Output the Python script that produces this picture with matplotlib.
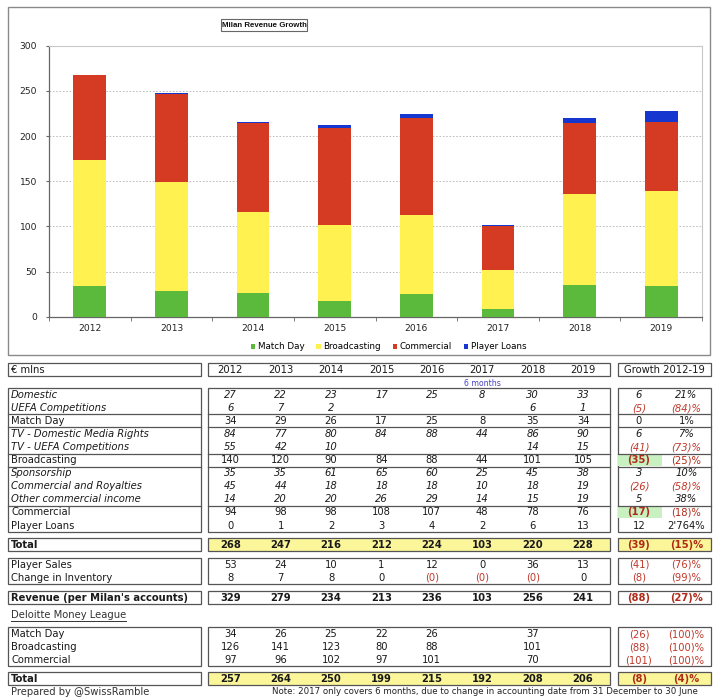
import matplotlib
matplotlib.use("Agg")
import matplotlib.pyplot as plt
from matplotlib.patches import Rectangle
import numpy as np

# ---------------- data ----------------
years = ["2012", "2013", "2014", "2015", "2016", "2017", "2018", "2019"]
domestic = [27, 22, 23, 17, 25, 8, 30, 33]
uefa_md = [6, 7, 2, None, None, None, 6, 1]
match_day = [34, 29, 26, 17, 25, 8, 35, 34]
tv_domestic = [84, 77, 80, 84, 88, 44, 86, 90]
tv_uefa = [55, 42, 10, None, None, None, 14, 15]
broadcasting = [140, 120, 90, 84, 88, 44, 101, 105]
sponsorship = [35, 35, 61, 65, 60, 25, 45, 38]
comm_royalties = [45, 44, 18, 18, 18, 10, 18, 19]
other_comm = [14, 20, 20, 26, 29, 14, 15, 19]
commercial = [94, 98, 98, 108, 107, 48, 78, 76]
player_loans = [0, 1, 2, 3, 4, 2, 6, 13]
total = [268, 247, 216, 212, 224, 103, 220, 228]
player_sales = [53, 24, 10, 1, 12, 0, 36, 13]
inventory = ["8", "7", "8", "0", "(0)", "(0)", "(0)", "0"]
revenue = [329, 279, 234, 213, 236, 103, 256, 241]
dml_md = [34, 26, 25, 22, 26, None, 37, None]
dml_bc = [126, 141, 123, 80, 88, None, 101, None]
dml_comm = [97, 96, 102, 97, 101, None, 70, None]
dml_total = [257, 264, 250, 199, 215, 192, 208, 206]

growth_abs = {"Domestic": "6", "UEFA Competitions": "(5)", "Match Day": "0",
              "TV - Domestic Media Rights": "6", "TV - UEFA Competitions": "(41)",
              "Broadcasting": "(35)", "Sponsorship": "3", "Commercial and Royalties": "(26)",
              "Other commercial income": "5", "Commercial": "(17)", "Player Loans": "12",
              "Total": "(39)", "Player Sales": "(41)", "Change in Inventory": "(8)",
              "Revenue": "(88)", "DML Match Day": "(26)", "DML Broadcasting": "(88)",
              "DML Commercial": "(101)", "DML Total": "(8)"}
growth_pct = {"Domestic": "21%", "UEFA Competitions": "(84)%", "Match Day": "1%",
              "TV - Domestic Media Rights": "7%", "TV - UEFA Competitions": "(73)%",
              "Broadcasting": "(25)%", "Sponsorship": "10%", "Commercial and Royalties": "(58)%",
              "Other commercial income": "38%", "Commercial": "(18)%", "Player Loans": "2'764%",
              "Total": "(15)%", "Player Sales": "(76)%", "Change in Inventory": "(99)%",
              "Revenue": "(27)%", "DML Match Day": "(100)%", "DML Broadcasting": "(100)%",
              "DML Commercial": "(100)%", "DML Total": "(4)%"}

series_names = ["Match Day", "Broadcasting", "Commercial", "Player Loans"]
series_colors = ["#5bb93c", "#fff150", "#d53b22", "#1537cf"]

W, H = 720, 700
fig = plt.figure(figsize=(W / 100, H / 100), dpi=100)

# overlay axes in pixel coordinates
ov = fig.add_axes([0, 0, 1, 1], zorder=0)
ov.set_xlim(0, W)
ov.set_ylim(H, 0)
ov.axis("off")

FS = 7.2
TXT = "#1a1a1a"
RED = "#c0392b"
DRED = "#b02a18"
BORDER = "#555555"
YELLOW = "#fbf69a"
GREEN = "#c9f0c0"

# chart frame
ov.add_patch(Rectangle((8, 7), 702, 348, fill=False, ec="#8a8a8a", lw=1.0))
# title box (with slight shadow)
ov.add_patch(Rectangle((222, 20), 86, 12, fc="#bbbbbb", ec="none", lw=0))
ov.add_patch(Rectangle((221, 19), 86, 12, fc="white", ec="#666666", lw=0.8))
ov.text(264, 25.3, "Milan Revenue Growth", ha="center", va="center", fontsize=5.7,
        fontweight="bold", family=["Liberation Sans", "DejaVu Sans"], color="#111")

# ---------------- bar chart ----------------
ax = fig.add_axes([49 / W, 1 - 316.7 / H, 653 / W, 271 / H], zorder=2)
x = np.arange(len(years))
bottom = np.zeros(len(years))
handles = []
for name, vals, col in zip(series_names, [match_day, broadcasting, commercial, player_loans], series_colors):
    v = np.array(vals, dtype=float)
    b = ax.bar(x, v, 0.4, bottom=bottom, color=col, label=name, zorder=3)
    handles.append(b)
    bottom += v
ax.set_xlim(-0.5, len(years) - 0.5)
ax.set_ylim(0, 300)
ax.set_yticks(range(0, 301, 50))
ax.set_xticks(x)
ax.set_xticklabels(years)
ax.set_xticks(np.arange(-0.5, len(years), 1.0), minor=True)
ax.tick_params(axis="x", which="major", length=0, pad=5.5, labelsize=6.6, labelcolor="#222")
ax.tick_params(axis="x", which="minor", length=3, color="#666", direction="out")
ax.tick_params(axis="y", length=2.5, color="#666", pad=6, labelsize=6.6, labelcolor="#222")
ax.yaxis.grid(True, linestyle=(0, (2, 2)), color="#b5b5b5", lw=0.6)
ax.set_axisbelow(True)
for s in ["top", "right"]:
    ax.spines[s].set_color("#c8c8c8")
    ax.spines[s].set_linewidth(0.8)
for s in ["left", "bottom"]:
    ax.spines[s].set_color("#666666")
    ax.spines[s].set_linewidth(0.9)

fig.legend(handles=handles, labels=series_names, loc="center",
           bbox_to_anchor=(388.5 / W, 1 - 346.7 / H), ncol=4, frameon=False,
           fontsize=6.3, handlelength=0.5, handleheight=0.5, handletextpad=0.3,
           columnspacing=1.35, borderaxespad=0, borderpad=0)

# ---------------- table ----------------
LX0, LX1 = 8, 200.7
VX0, VX1 = 207.7, 610
GX0, GX1 = 617.7, 710.7
col_x = [230.3 + 50.39 * i for i in range(len(years))]
GA_X = 639
GP_X = 686.5
LBL_X = 11
RH = 13.04


def txt(xp, yp, s, ha="center", bold=False, italic=False, color=TXT, size=FS):
    ov.text(xp, yp, s, ha=ha, va="center", fontsize=size,
            fontweight="bold" if bold else "normal",
            fontstyle="italic" if italic else "normal", color=color)


def boxes(y0, n, fill=None):
    h = n * RH
    ov.add_patch(Rectangle((LX0, y0), LX1 - LX0, h, fc="white", ec=BORDER, lw=0.9))
    ov.add_patch(Rectangle((VX0, y0), VX1 - VX0, h, fc=fill or "white", ec=BORDER, lw=0.9))
    ov.add_patch(Rectangle((GX0, y0), GX1 - GX0, h, fc=fill or "white", ec=BORDER, lw=0.9))


def sep(yp):
    for a, b in [(LX0, LX1), (VX0, VX1), (GX0, GX1)]:
        ov.plot([a, b], [yp, yp], color=BORDER, lw=0.9)


def fmt(v):
    if v is None:
        return ""
    return str(v)


def row(y0, i, label, vals, key, italic=False, bold=False, green=False, gbold=False):
    yc = y0 + RH * (i + 0.5) + 0.3
    txt(LBL_X, yc, label, ha="left", bold=bold, italic=italic)
    for cx, v in zip(col_x, vals):
        s = fmt(v)
        c = RED if s.startswith("(") else TXT
        txt(cx, yc, s, bold=bold, italic=italic, color=c)
    ga, gp = growth_abs[key], growth_pct[key]
    if green:
        ov.add_patch(Rectangle((GX0 + 0.5, y0 + RH * i + 0.5), 43.5, RH - 1, fc=GREEN, ec="none", zorder=1))
    gb = bold or gbold
    txt(GA_X, yc, ga, bold=gb, italic=italic,
        color=(DRED if gb else RED) if ga.startswith("(") else TXT)
    txt(GP_X, yc, gp, bold=bold, italic=italic,
        color=(DRED if gb else RED) if gp.startswith("(") else TXT)


# header
y_h = 363.3
boxes(y_h, 1)
yc = y_h + RH / 2 + 0.3
txt(LBL_X, yc, "€ mlns", ha="left")
for cx, yr in zip(col_x, years):
    txt(cx, yc, yr)
txt((GX0 + GX1) / 2, yc, "Growth 2012-19")
txt(col_x[5], 383.3, "6 months", color="#4545c0", size=5.6)

# main section
y_m = 388.3
boxes(y_m, 11)
for k in [2, 3, 5, 6, 9]:
    sep(y_m + k * RH)
main_rows = [
    ("Domestic", domestic, True, False),
    ("UEFA Competitions", uefa_md, True, False),
    ("Match Day", match_day, False, False),
    ("TV - Domestic Media Rights", tv_domestic, True, False),
    ("TV - UEFA Competitions", tv_uefa, True, False),
    ("Broadcasting", broadcasting, False, True),
    ("Sponsorship", sponsorship, True, False),
    ("Commercial and Royalties", comm_royalties, True, False),
    ("Other commercial income", other_comm, True, False),
    ("Commercial", commercial, False, True),
    ("Player Loans", player_loans, False, False),
]
for i, (lab, vals, it, gr) in enumerate(main_rows):
    row(y_m, i, lab, vals, lab, italic=it, green=gr, gbold=gr)

# total
y_t = 538.3
boxes(y_t, 1, fill=YELLOW)
row(y_t, 0, "Total", total, "Total", bold=True)

# player sales / inventory
y_p = 557.7
boxes(y_p, 2)
row(y_p, 0, "Player Sales", player_sales, "Player Sales")
row(y_p, 1, "Change in Inventory", inventory, "Change in Inventory")

# revenue
y_r = 590.7
boxes(y_r, 1)
row(y_r, 0, "Revenue (per Milan's accounts)", revenue, "Revenue", bold=True)

# Deloitte
dt = ov.text(LBL_X, 615, "Deloitte Money League", ha="left", va="center", fontsize=FS, color="#333")
fig.canvas.draw()
bb = dt.get_window_extent(renderer=fig.canvas.get_renderer())
ov.plot([bb.x0, bb.x1], [620.5, 620.5], color="#333", lw=0.7)

y_d = 627.3
boxes(y_d, 3)
row(y_d, 0, "Match Day", dml_md, "DML Match Day")
row(y_d, 1, "Broadcasting", dml_bc, "DML Broadcasting")
row(y_d, 2, "Commercial", dml_comm, "DML Commercial")

y_dt = 671.7
boxes(y_dt, 1, fill=YELLOW)
row(y_dt, 0, "Total", dml_total, "DML Total", bold=True)

# footer
txt(LBL_X, 692, "Prepared by @SwissRamble", ha="left", color="#333")
txt(698, 692, "Note: 2017 only covers 6 months, due to change in accounting date from 31 December to 30 June",
    ha="right", color="#222", size=6.2)

fig.savefig("out.png", dpi=100)
